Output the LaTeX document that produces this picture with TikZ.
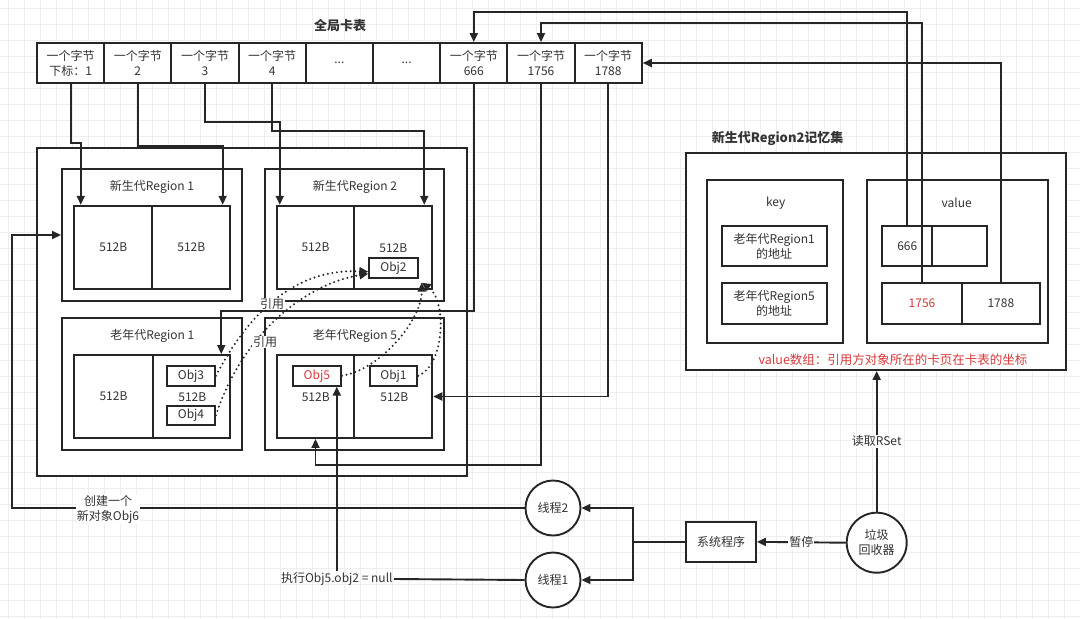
\documentclass[tikz,border=0pt]{standalone}
\usepackage{fontspec}
\setmainfont{Noto Sans CJK SC}
\usetikzlibrary{arrows.meta,calc}
\definecolor{ink}{HTML}{262626}
\definecolor{txt}{HTML}{333333}
\definecolor{redt}{HTML}{D8393B}
\definecolor{gridc}{HTML}{EEEEEE}
\newcommand\R[7]{\node[#6, minimum width={(#4)-(#2)}, minimum height={(#5)-(#3)}] (#1) at ({((#2)+(#4))/2},{((#3)+(#5))/2}) {#7};}
\tikzset{
 bx/.style={draw=ink, line width=1.9pt, fill=white, inner sep=0pt, text=txt, font=\fontsize{12}{15}\selectfont, align=center},
 lbl/.style={text=txt, font=\fontsize{12}{15}\selectfont, align=center, inner sep=1pt},
 wl/.style={lbl, fill=white},
 arr/.style={draw=ink, line width=1.9pt, -{Triangle[length=9pt,width=8pt]}},
 ln/.style={draw=ink, line width=1.9pt},
 dotarr/.style={draw=ink, line width=2.2pt, line cap=round, dash pattern=on 0pt off 4.6pt, -{Triangle[length=9pt,width=8pt]}},
}
\begin{document}
\begin{tikzpicture}[x=1pt,y=-1pt]
\useasboundingbox (0,0) rectangle (1080,619);
\fill[white] (0,0) rectangle (1080,619);
\foreach \i in {8,24,...,1080} \draw[gridc, line width=0.6pt] (\i,0) -- (\i,619);
\foreach \j in {8,24,...,619} \draw[gridc, line width=0.6pt] (0,\j) -- (1080,\j);

% ---------- global card table ----------
\node[lbl, font=\fontsize{13}{15}\selectfont\bfseries] (title) at (340,25) {全局卡表};
\R{c1}{37}{43}{104.2}{83}{bx}{一个字节\\下标：1}
\R{c2}{104.2}{43}{171.4}{83}{bx}{一个字节\\2}
\R{c3}{171.4}{43}{238.6}{83}{bx}{一个字节\\3}
\R{c4}{238.6}{43}{305.8}{83}{bx}{一个字节\\4}
\R{c5}{305.8}{43}{373}{83}{bx}{...}
\R{c6}{373}{43}{440.2}{83}{bx}{...}
\R{c7}{440.2}{43}{507.4}{83}{bx}{一个字节\\666}
\R{c8}{507.4}{43}{574.6}{83}{bx}{一个字节\\1756}
\R{c9}{574.6}{43}{641.8}{83}{bx}{一个字节\\1788}

% ---------- heap ----------
\R{heap}{37}{148}{467}{476}{bx}{}
\R{r1}{62}{169}{242}{301}{bx}{}
\R{r1a}{74.3}{205.7}{152.3}{289.3}{bx}{512B}
\R{r1b}{152.3}{205.7}{230.3}{289.3}{bx}{512B}
\node[lbl] (r1t) at (152,187) {新生代Region 1};
\R{r2}{265}{169}{444.3}{301}{bx}{}
\R{r2a}{276.7}{205.7}{354.3}{289.3}{bx}{512B}
\R{r2b}{354.3}{205.7}{432.3}{289.3}{bx}{}
\node[lbl] (r2bt) at (393.3,247.7) {512B};
\R{obj2}{369.3}{257.7}{417.7}{277.7}{bx}{Obj2}
\node[lbl] (r2t) at (355,187) {新生代Region 2};

\R{o1}{62}{317.7}{242}{450.3}{bx}{}
\R{o1a}{74.3}{355}{152.7}{438}{bx}{512B}
\R{o1b}{152.7}{355}{230.3}{438}{bx}{}
\node[lbl] (o1bt) at (192.3,396.7) {512B};
\R{obj3}{167}{365.7}{215}{385.7}{bx}{Obj3}
\R{obj4}{167}{405.7}{215}{425}{bx}{Obj4}
\node[lbl] (o1t) at (152.3,335.7) {老年代Region 1};

\R{o5}{265}{317.7}{444.3}{450.3}{bx}{}
\R{o5a}{276.7}{355}{354.3}{438}{bx}{}
\R{o5b}{354.3}{355}{432.3}{438}{bx}{}
\node[lbl] (o5at) at (315.7,396.7) {512B};
\node[lbl] (o5bt) at (394.3,396.7) {512B};
\R{obj5}{292.7}{365.7}{341}{385.7}{bx,text=redt}{Obj5}
\R{obj1}{369.7}{365.7}{417.3}{385.7}{bx}{Obj1}
\node[lbl] (o5t) at (355,335.7) {老年代Region 5};

% ---------- remembered set ----------
\R{rs}{686}{153.3}{1066}{370}{bx}{}
\node[lbl, font=\fontsize{13}{15}\selectfont\bfseries] (rst) at (777.7,138.3) {新生代Region2记忆集};
\R{key}{706.7}{180}{842.7}{343.3}{bx}{}
\node[lbl] (keyt) at (775.7,202.7) {key};
\R{k1}{721.7}{226}{826.7}{266}{bx}{老年代Region1\\的地址}
\R{k2}{721.7}{283.3}{826.7}{324}{bx}{老年代Region5\\的地址}
\R{val}{866.7}{180}{1048.3}{343.3}{bx}{}
\node[lbl] (valt) at (956.7,202.7) {value};
\R{v1a}{882.3}{226}{932.3}{266}{bx}{666}
\R{v1b}{932.3}{226}{986.7}{266}{bx}{}
\R{v2a}{882.3}{283.3}{961.7}{324}{bx,text=redt}{1756}
\R{v2b}{961.7}{283.3}{1040}{324}{bx}{1788}
\node[lbl, text=redt, font=\fontsize{12.5}{15}\selectfont] (note) at (893,359.3) {value数组：引用方对象所在的卡页在卡表的坐标};

% ---------- bottom ----------
\R{sys}{686}{522}{756}{561.7}{bx}{系统程序}
\node[bx, circle, minimum size=60] (gc) at (876.7,542.7) {垃圾\\回收器};
\node[bx, circle, minimum size=55] (t2) at (553,508) {线程2};
\node[bx, circle, minimum size=55] (t1) at (553,580) {线程1};

% ---------- connectors: cards to regions ----------
\draw[arr] (c1.south) -- ++(0,59) -| ($(r1a.north west)+(7.4,0)$);
\draw[arr] (c2.south) -- ++(0,62) -| ($(r1b.north east)+(-8.6,0)$);
\draw[arr] (c3.south) -- ++(0,38) -| ($(r2a.north west)+(4,0)$);
\draw[arr] (c4.south) -- ++(0,47) -| ($(r2b.north east)+(-9,0)$);
\draw[arr] (c7.south) -- ++(0,227) -| ($(o1b.north east)+(-10,0)$);
\draw[arr] (c8.south) -- ++(0,381) -| (o5a.south);
\draw[arr] (c9.south) |- (o5b.east);

% ---------- RSet values to cards ----------
\draw[arr] (v1a.north) |- ($(c7.north)+(0,-30.3)$) -- (c7.north);
\draw[arr] (v2a.north) |- ($(c8.north)+(0,-19)$) -- (c8.north);
\draw[arr] (v2b.north) |- (c9.east);

% ---------- references ----------
\draw[dotarr] (obj3.east) .. controls (245,320) and (290,268) .. ($(obj2.west)+(0,4)$);
\draw[dotarr] (obj4.east) .. controls (240,340) and (300,285) .. ($(obj2.west)+(0,6)$);
\draw[dotarr] (obj5.east) .. controls (380,370) and (422,320) .. ($(obj2.south east)+(3,4)$);
\draw[dotarr] (obj1.east) .. controls (445,365) and (447,300) .. ($(obj2.south east)+(3,4)$);
\node[wl] (ref1) at (272,304) {引用};
\node[wl] (ref2) at (265,342) {引用};

% ---------- control flow ----------
\draw[arr] (gc.north) -- (gc.north |- rs.south) node[wl, midway] {读取RSet};
\draw[arr] (gc.west) -- (sys.east) node[wl, midway] {暂停};
\coordinate (br) at ($(sys.west)+(-52,0)$);
\draw[ln] (sys.west) -- (br);
\draw[arr] (br) |- (t2.east);
\draw[arr] (br) |- (t1.east);
\draw[arr] (t2.west) -| ($(r1.west)+(-49.4,0)$) -- (r1.west);
\node[wl] (newobj) at (108,509) {创建一个\\新对象Obj6};
\node[lbl] (nullop) at (336.8,579) {执行Obj5.obj2 = null};
\draw[ln] (t1.west) -- (nullop.east);
\draw[arr] (nullop.north) -- (nullop.north |- obj5.south);
\end{tikzpicture}
\end{document}
